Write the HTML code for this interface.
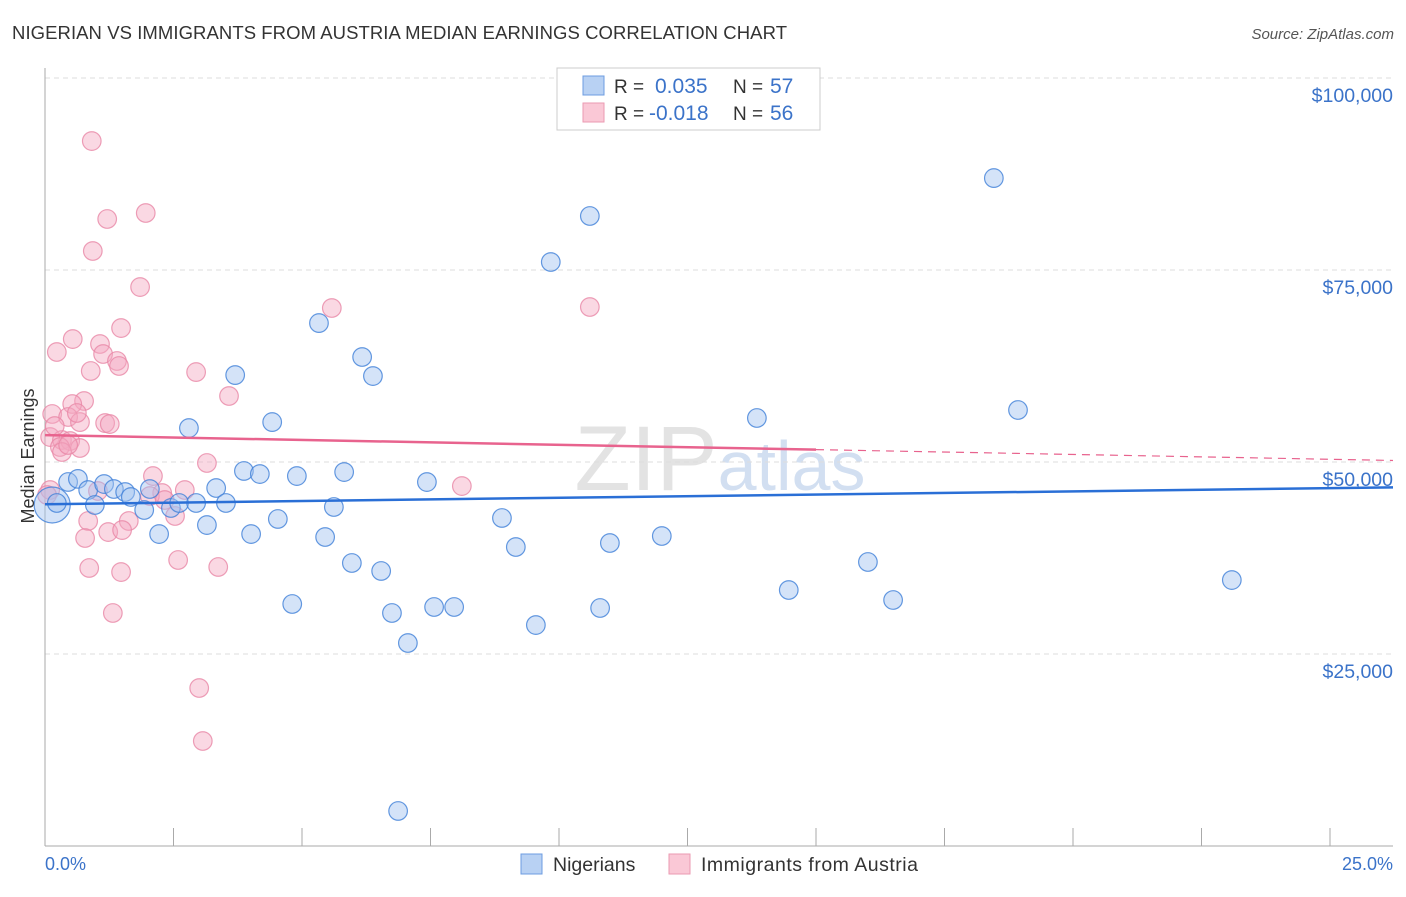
<!DOCTYPE html>
<html><head><meta charset="utf-8"><style>
body{margin:0;background:#fff;font-family:"Liberation Sans",sans-serif;}
svg text{font-family:"Liberation Sans",sans-serif;}
</style></head><body>
<svg id="chart" width="1406" height="892" xmlns="http://www.w3.org/2000/svg">
<text x="12" y="39" font-size="18.5" fill="#333" textLength="775">NIGERIAN VS IMMIGRANTS FROM AUSTRIA MEDIAN EARNINGS CORRELATION CHART</text>
<text x="1394" y="39" font-size="15" fill="#555" text-anchor="end" font-style="italic">Source: ZipAtlas.com</text>
<text x="720" y="490" font-size="92" fill="#ddd" text-anchor="middle" font-family="Liberation Serif" opacity="0.8">ZIP<tspan fill="#c8d8ee" font-family="Liberation Sans" font-size="70">atlas</tspan></text>
<g id="grid"></g>
<g id="axes"></g>
<g id="points"></g>
<g id="trends"></g>
<text transform="translate(34,456) rotate(-90)" font-size="18" fill="#333" text-anchor="middle">Median Earnings</text>
<text x="45" y="870" font-size="18" fill="#3b73c9">0.0%</text>
<text x="1393" y="870" font-size="18" fill="#3b73c9" text-anchor="end">25.0%</text>
<g>
<rect x="557" y="68" width="263" height="62" fill="#fff" stroke="#ccc"/>
<rect x="583" y="76" width="21" height="19" fill="#b8d1f3" stroke="#6d9ce0"/>
<rect x="583" y="103" width="21" height="19" fill="#fac8d6" stroke="#eb9ab2"/>
<text x="614" y="93" font-size="19" fill="#333">R = </text><text x="655" y="93" font-size="21" fill="#3b73c9">0.035</text>
<text x="733" y="93" font-size="19" fill="#333">N = </text><text x="770" y="93" font-size="21" fill="#3b73c9">57</text>
<text x="614" y="120" font-size="19" fill="#333">R = </text><text x="649" y="120" font-size="21" fill="#3b73c9">-0.018</text>
<text x="733" y="120" font-size="19" fill="#333">N = </text><text x="770" y="120" font-size="21" fill="#3b73c9">56</text>
</g>
<g><rect x="521" y="854" width="21" height="20" fill="#b8d1f3" stroke="#6d9ce0"/><text x="553" y="871" font-size="19.5" fill="#333">Nigerians</text></g>
<g><rect x="669" y="854" width="21" height="20" fill="#fac8d6" stroke="#eb9ab2"/><text x="701" y="871" font-size="19.5" fill="#333" textLength="217">Immigrants from Austria</text></g>
</svg>
<script>
const blueX=[0.14,0.23,0.45,0.64,0.84,0.97,1.15,1.34,1.56,1.67,2.04,1.93,2.22,2.45,2.61,2.80,2.94,3.15,3.33,3.52,3.70,3.87,4.01,4.18,4.42,4.53,4.81,4.90,5.33,5.45,5.62,5.82,5.97,6.17,6.38,6.54,6.75,7.06,6.87,7.43,7.57,7.96,8.89,9.16,9.55,9.84,10.60,10.80,10.99,12.00,13.85,14.47,16.01,16.50,18.46,18.93,23.09];
const blueY=[44400,44660,47400,47800,46350,44400,47130,46480,46090,45440,46480,43750,40620,44010,44660,54420,44660,41790,46610,44660,61320,48830,40620,48430,55200,42580,31510,48170,68090,40230,44140,48690,36850,63670,61190,35810,30340,26430,4560,47390,31120,31120,42710,38930,28770,76040,82030,30990,39450,40360,55730,33330,36980,32030,86970,56770,34630];
const pinkX=[0.91,1.96,1.21,0.93,1.85,5.58,10.60,1.48,0.54,0.23,1.07,1.13,1.40,1.44,0.89,2.94,3.58,0.76,0.53,0.14,0.45,0.68,1.17,0.10,0.33,0.49,0.29,0.68,0.33,3.15,2.10,8.11,1.03,2.72,2.28,2.53,0.84,1.63,1.23,0.78,2.59,0.86,3.37,1.48,1.32,3.00,3.07,0.10,2.04,2.33,0.62,0.19,0.45,1.26,1.50,0.04];
const pinkY=[91790,82420,81640,77470,72780,70050,70180,67440,66010,64320,65360,64060,63150,62500,61850,61710,58590,57940,57550,56250,55860,55200,55070,53250,52860,52730,51950,51820,51300,49870,48170,46870,46220,46350,45960,42970,42320,42320,40880,40100,37240,36200,36330,35670,30340,20570,13670,46350,45570,45050,56380,54680,52210,54940,41140,45700];
const yTicks=[25000,50000,75000,100000];
const yTickLabels=["$25,000","$50,000","$75,000","$100,000"];
const xTicks=[0,2.5,5,7.5,10,12.5,15,17.5,20,22.5,25];
const blueTrend=[44500,46700];
const pinkTrend=[53500,50200];
const NS="http://www.w3.org/2000/svg";
const X0=45,XS=51.4,Y0=846,YS=192/25000;
function sx(v){return X0+v*XS;}
function sy(v){return Y0-v*YS;}
function mk(tag,attrs,parent){const e=document.createElementNS(NS,tag);for(const k in attrs)e.setAttribute(k,attrs[k]);document.getElementById(parent).appendChild(e);return e;}
yTicks.forEach((t,i)=>{
 const l=mk('line',{x1:45,x2:1393,y1:sy(t),y2:sy(t),stroke:'#ddd','stroke-dasharray':'5,4'},'grid');
 
 
 const tx=mk('text',{x:1393,y:sy(t)+24,'font-size':19.5,fill:'#3b73c9','text-anchor':'end'},'grid');
 tx.textContent=yTickLabels[i];
 
 
});
let a=mk('line',{x1:45,x2:45,y1:68,y2:846,stroke:'#aaa'},'axes');


a=mk('line',{x1:45,x2:1393,y1:846,y2:846,stroke:'#aaa'},'axes');


xTicks.forEach(t=>{
 const l=mk('line',{x1:sx(t),x2:sx(t),y1:828,y2:846,stroke:'#aaa'},'axes');
 
 
});
function dots(xs,ys,fill,stroke,name){
 xs.forEach((x,i)=>{
  const big=(name==='nigerian-point'&&i===0);
  const c=mk('circle',{cx:sx(x),cy:sy(ys[i]),r:big?18:9.3,fill:fill,'fill-opacity':0.45,stroke:stroke,'stroke-width':1.2,'stroke-opacity':0.8},'points');
  
  
 });
}
dots(pinkX,pinkY,'#f5a9c0','#e987a6','austria-point');
dots(blueX,blueY,'#9fc2f0','#3f7fd8','nigerian-point');
let t=mk('line',{x1:sx(0),y1:sy(blueTrend[0]),x2:1393,y2:sy(blueTrend[1]),stroke:'#2a6fd6','stroke-width':2.5},'trends');


const pyAt=x=>pinkTrend[0]+(pinkTrend[1]-pinkTrend[0])*(x-45)/(1393-45);
t=mk('line',{x1:45,y1:sy(pinkTrend[0]),x2:816,y2:sy(pyAt(816)),stroke:'#e8638e','stroke-width':2.5},'trends');


t=mk('line',{x1:816,y1:sy(pyAt(816)),x2:1393,y2:sy(pinkTrend[1]),stroke:'#e8638e','stroke-width':1.2,'stroke-dasharray':'8,6'},'trends');


</script>
</body></html>
